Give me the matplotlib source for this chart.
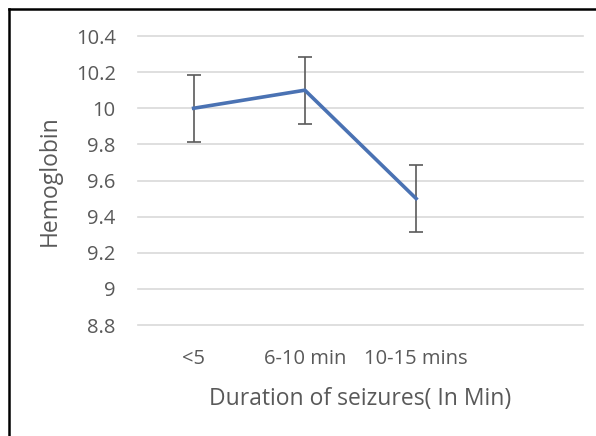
import numpy as np
import matplotlib
matplotlib.use("Agg")
import matplotlib.pyplot as plt
from matplotlib.lines import Line2D

categories = ["<5", "6-10 min", "10-15 mins", ""]
hb = [10.0, 10.1, 9.5]
hb_err = [0.185, 0.185, 0.185]
yticks = [8.8, 9.0, 9.2, 9.4, 9.6, 9.8, 10.0, 10.2, 10.4]
ytick_labels = ["8.8", "9", "9.2", "9.4", "9.6", "9.8", "10", "10.2", "10.4"]

plt.rcParams['font.family'] = ['Open Sans', 'DejaVu Sans']
txt = '#595959'

fig = plt.figure(figsize=(5.96, 4.36), dpi=100)
ax = fig.add_axes([138/596, 111/436, 445/596, 289/436])

x = np.arange(len(hb))
ax.errorbar(x, hb, yerr=hb_err, color='#4a72b3', lw=2.6, ecolor='#5a5a5a',
            elinewidth=1.2, capsize=5, capthick=1.2, zorder=3)

ax.set_xlim(-0.5, len(categories) - 0.5)
ax.set_ylim(8.8, 10.4)
ax.set_xticks(np.arange(len(categories)))
ax.set_xticklabels(categories)
ax.set_yticks(yticks)
ax.set_yticklabels(ytick_labels)
ax.grid(axis='y', color='#d9d9d9', lw=1.2)
ax.set_axisbelow(True)
for s in ax.spines.values():
    s.set_visible(False)
for gl in ax.get_ygridlines():
    gl.set_clip_on(False)
ax.tick_params(length=0, labelsize=14.5, colors=txt)
ax.tick_params(axis='y', pad=16)
ax.tick_params(axis='x', pad=17)

ax.set_ylabel('Hemoglobin', fontsize=16.5, color=txt, labelpad=10)
ax.set_xlabel('Duration of seizures( In Min)', fontsize=16.5, color=txt, labelpad=13)

# border on top and left of the picture
fig.add_artist(Line2D([9/596, 9/596], [0, 1 - 9/436], color='black', lw=1.8))
fig.add_artist(Line2D([9/596, 1], [1 - 9/436, 1 - 9/436], color='black', lw=1.8))

fig.savefig('out.png', dpi=100)
